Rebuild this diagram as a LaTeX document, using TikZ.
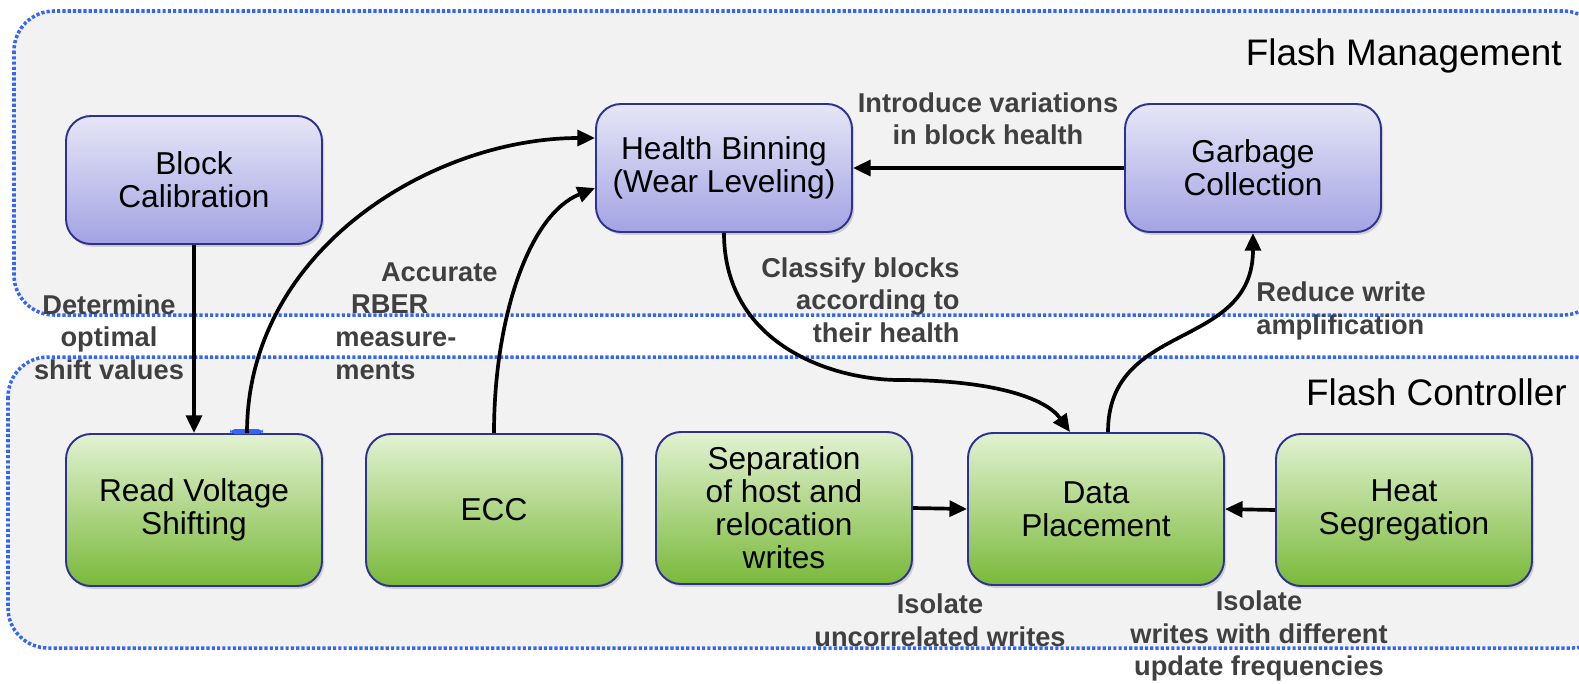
\documentclass[tikz,border=0pt]{standalone}
\usepackage{fontspec}
\setmainfont{Liberation Sans}
\usetikzlibrary{arrows.meta,calc,shadows}

\definecolor{regionblue}{HTML}{3366F5}
\definecolor{regionfill}{HTML}{F2F2F2}
\definecolor{boxedge}{HTML}{2E3192}
\definecolor{labelgray}{HTML}{404040}
\definecolor{mgmttop}{HTML}{E6E6F7}
\definecolor{mgmtbot}{HTML}{A3A3E4}
\definecolor{ctrltop}{HTML}{E2F2D2}
\definecolor{ctrlbot}{HTML}{7AB93A}

\tikzset{
  region/.style={draw=regionblue, fill=regionfill, line width=2pt,
    dash pattern=on 1.8pt off 1.2pt, rounded corners=8mm},
  box/.style={draw=boxedge, line width=1.1pt, rounded corners=5mm,
    minimum width=51.2mm, align=center, inner sep=2pt,
    font=\fontsize{18}{18.8}\selectfont,
    drop shadow={shadow xshift=1.2pt, shadow yshift=-1.6pt, opacity=0.3}},
  mgmtbox/.style={box, top color=mgmttop, bottom color=mgmtbot, minimum height=25.6mm},
  ctrlbox/.style={box, top color=ctrltop, bottom color=ctrlbot, minimum height=30.4mm},
  lbl/.style={font=\bfseries\fontsize{15.5}{18.5}\selectfont, text=labelgray,
    inner sep=0pt},
  regiontitle/.style={font=\fontsize{21}{24}\selectfont, anchor=base east, inner sep=0pt},
  arr/.style={-{Triangle[length=10pt,width=9pt]}, line width=2.1pt},
}

\begin{document}
\begin{tikzpicture}[x=0.2mm,y=-0.2mm]
\useasboundingbox (0,0) rectangle (1579,683);

% the two regions
\begin{scope}
\clip (0,0) rectangle (1579,683);
\draw[region] (14,11) rectangle (1603,315);
\draw[region] (8,357) rectangle (1613,648);
\end{scope}
\node[regiontitle] (fmtitle) at (1562,65) {Flash Management};
\node[regiontitle] (fctitle) at (1567,405) {Flash Controller};

% flash management
\node[mgmtbox] (bc) at (194,180) {Block\\Calibration};
\node[mgmtbox] (hb) at (724,168) {Health Binning\\(Wear Leveling)};
\node[mgmtbox] (gc) at (1253,168) {Garbage\\Collection};

% flash controller
\node[ctrlbox] (rvs) at (194,510) {Read Voltage\\Shifting};
\node[ctrlbox] (ecc) at (494,510) {ECC};
\node[ctrlbox] (sep) at (784,508) {Separation\\of host and\\relocation\\writes};
\node[ctrlbox] (dp) at (1096,509) {Data\\Placement};
\node[ctrlbox] (hs) at (1404,510) {Heat\\Segregation};

\fill[regionblue, rounded corners=1mm] (230,434) rectangle (263,429);

% connectors
\draw[arr] (bc.south) -- (rvs.north);
\draw[arr] ($(rvs.north)+(53,0)$) .. controls +(0,-183) and +(-163,0) .. ($(hb.west)+(0,-30)$);
\draw[arr] (ecc.north) .. controls +(0,-113) and +(-67,27) .. ($(hb.west)+(0,20)$);
\draw[arr] (gc.west) -- (hb.east);
\coordinate (bend) at (900,380);
\draw[arr] (hb.south) .. controls +(0,110) and +(-70,0) .. (bend)
  .. controls +(90,0) and +(-25,-35) .. ($(dp.north)+(-26,0)$);
\draw[arr] ($(dp.north)+(12,0)$) .. controls +(0,-112) and +(0,118) .. (gc.south);
\draw[arr] (sep.east) -- (dp.west);
\draw[arr] (hs.west) -- (dp.east);

% labels
\node[lbl, align=center] (lbldet) at (109,337) {Determine\\optimal\\shift values};
\node[lbl, align=left, anchor=west] (lblrber) at (335,321)
  {\hspace*{26pt}Accurate\\\hspace*{9pt}RBER\\measure-\\ments};
\node[lbl, align=center] (lblvar) at (988,119) {Introduce variations\\in block health};
\node[lbl, align=right, anchor=east] (lblcls) at (960,300) {Classify blocks\\according to\\their health};
\node[lbl, align=left, anchor=west] (lblwa) at (1256,311) {Reduce write\\amplification};
\node[lbl, align=center] (lbliso) at (940,620) {Isolate\\uncorrelated writes};
\node[lbl, align=center] (lblfreq) at (1259,636) {Isolate\\writes with different\\update frequencies};
\end{tikzpicture}
\end{document}
